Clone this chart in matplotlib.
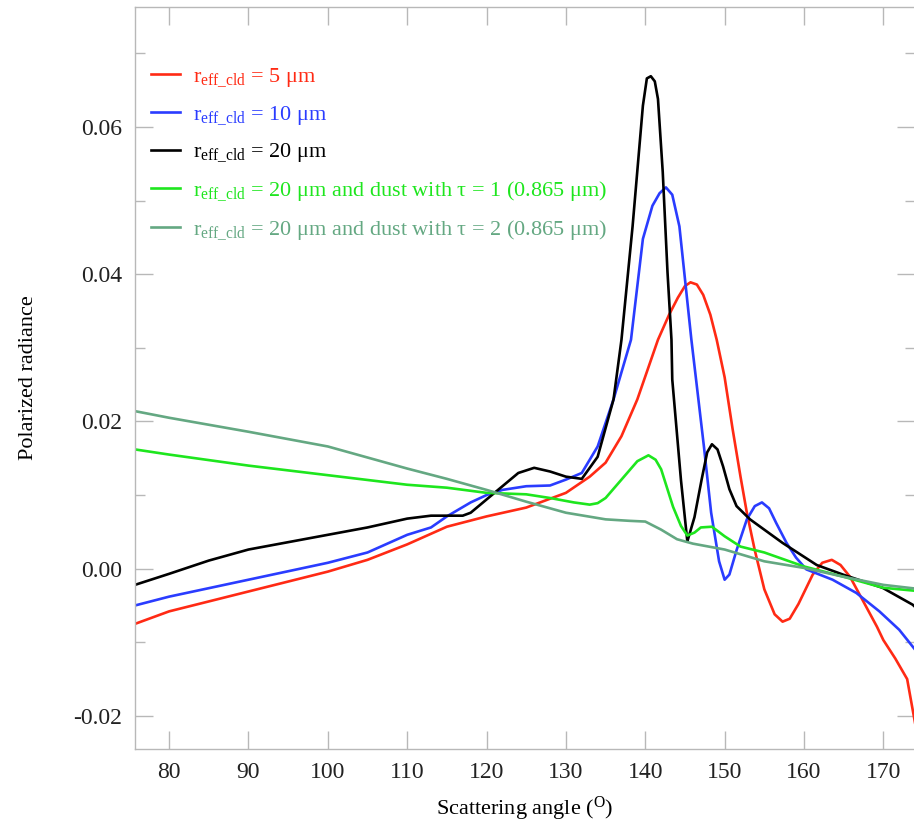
import matplotlib
matplotlib.use('Agg')
import matplotlib.pyplot as plt
from matplotlib.ticker import MultipleLocator

plt.rcParams['font.family'] = ['Liberation Serif', 'DejaVu Serif']
plt.rcParams['mathtext.fontset'] = 'custom'
plt.rcParams['mathtext.rm'] = 'Liberation Serif'
plt.rcParams['mathtext.it'] = 'Liberation Serif:italic'

# values
x_red = [75.7, 80, 90, 100, 105, 110, 115, 120, 125, 130, 133, 135, 137, 139, 141.6, 143, 144.1, 145.0,
         145.7, 146.5, 147.3, 148.2, 149, 150, 151, 152, 152.8, 153.8, 155, 156.3, 157.3, 158.2, 159.3,
         161.1, 162.3, 163.5, 164.6, 165.8, 167.5, 169.2, 170, 171.5, 173, 174]
y_red = [-0.0075, -0.0058, -0.0031, -0.0004, 0.0012, 0.0033, 0.0057, 0.0071, 0.0083, 0.0103, 0.0125,
         0.0144, 0.018, 0.023, 0.0311, 0.0345, 0.0368, 0.0384, 0.0389, 0.0386, 0.0372, 0.0345, 0.0311,
         0.026, 0.019, 0.0125, 0.0076, 0.0025, -0.0028, -0.0062, -0.0072, -0.0068, -0.0048, -0.0008,
         0.0008, 0.0012, 0.0005, -0.0011, -0.0045, -0.0079, -0.0097, -0.0122, -0.015, -0.021]

x_blue = [75.7, 80, 90, 100, 105, 110, 113, 115, 118, 120, 122, 125, 128, 130, 132, 134, 136, 138.2,
          139.7, 140.9, 141.8, 142.6, 143.4, 144.3, 145.8, 146.4, 147.4, 148.3, 149.3, 150.0, 150.6,
          151.5, 152.8, 153.8, 154.7, 155.6, 156.5, 157.8, 159, 160.3, 163.6, 166.6, 169.5, 172.0, 174]
y_blue = [-0.005, -0.0038, -0.0015, 0.0008, 0.0022, 0.0046, 0.0056, 0.0071, 0.009, 0.010, 0.0107,
          0.0112, 0.0113, 0.0121, 0.013, 0.0166, 0.023, 0.0311, 0.0448, 0.0493, 0.0510, 0.0518, 0.0508,
          0.0465, 0.0312, 0.0257, 0.0165, 0.0076, 0.001, -0.0015, -0.0008, 0.0025, 0.0067, 0.0085,
          0.009, 0.0082, 0.0062, 0.0035, 0.0015, -0.0001, -0.0015, -0.0033, -0.0058, -0.0083, -0.011]

x_black = [75.7, 80, 85, 90, 100, 105, 110, 113, 117, 118, 120, 122, 124, 126, 128, 130, 132, 134, 136,
           137.0, 138.4, 139.7, 140.2, 140.7, 141.2, 141.6, 142.2, 142.8, 143.3, 143.4, 144.5, 145.3,
           146.2, 147.1, 147.8, 148.4, 149.1, 149.8, 150.6, 151.5, 153.2, 157.3, 161.6, 164.9, 169.9,
           173.7, 174]
y_black = [-0.0022, -0.0007, 0.0011, 0.0026, 0.0046, 0.0056, 0.0068, 0.0072, 0.0072, 0.0076, 0.0094,
           0.0112, 0.013, 0.0137, 0.0132, 0.0125, 0.0122, 0.0152, 0.023, 0.0311, 0.0465, 0.0629, 0.0666,
           0.0669, 0.0662, 0.0638, 0.0539, 0.0403, 0.0311, 0.0257, 0.012, 0.0037, 0.007, 0.0121, 0.0158,
           0.0169, 0.0162, 0.0139, 0.0108, 0.0085, 0.0067, 0.0035, 0.0005, -0.0008, -0.0026, -0.0049,
           -0.0052]

x_green = [75.7, 80, 90, 100, 110, 115, 120, 125, 128, 131, 133, 134, 135, 137, 139, 140.4, 141.3, 142,
           143.5, 144.5, 145.3, 146.2, 147, 148.4, 150, 152, 155, 160, 165, 170, 174]
y_green = [0.0162, 0.0155, 0.014, 0.0127, 0.0114, 0.011, 0.0103, 0.0101, 0.0096, 0.009, 0.0087, 0.0089,
           0.0096, 0.0121, 0.0146, 0.0154, 0.0148, 0.0135, 0.0084, 0.0058, 0.0045, 0.0049, 0.0056, 0.0057,
           0.0044, 0.003, 0.0022, 0.0003, -0.0011, -0.0026, -0.003]

x_dgreen = [75.7, 80, 90, 100, 110, 115, 120, 125, 130, 135, 138, 140, 142, 144, 146, 150, 155, 160,
            165, 170, 174]
y_dgreen = [0.0214, 0.0205, 0.0186, 0.0166, 0.0136, 0.0122, 0.0107, 0.0091, 0.0076, 0.0067, 0.0065,
            0.0064, 0.0053, 0.004, 0.0034, 0.0026, 0.001, 0.0001, -0.0011, -0.0022, -0.0027]

labels = [r'r$_{\rm eff\_cld}$ = 5 μm',
          r'r$_{\rm eff\_cld}$ = 10 μm',
          r'r$_{\rm eff\_cld}$ = 20 μm',
          r'r$_{\rm eff\_cld}$ = 20 μm and dust with τ = 1 (0.865 μm)',
          r'r$_{\rm eff\_cld}$ = 20 μm and dust with τ = 2 (0.865 μm)']
colors = ['#ff2a14', '#2a3cff', '#000000', '#1ee61e', '#64a882']

fig = plt.figure(figsize=(9.14, 8.26), dpi=100)
ax = fig.add_axes([0.1477, 0.0932, 0.8535, 0.8983])

series = [(x_red, y_red), (x_blue, y_blue), (x_black, y_black), (x_green, y_green), (x_dgreen, y_dgreen)]
for (xs, ys), c, lab in zip(series, colors, labels):
    ax.plot(xs, ys, color=c, lw=1.9, label=lab, solid_joinstyle='round')

ax.set_xlim(75.7, 174)
ax.set_ylim(-0.0245, 0.0763)
ax.xaxis.set_major_locator(MultipleLocator(10))
ax.yaxis.set_major_locator(MultipleLocator(0.02))
ax.yaxis.set_minor_locator(MultipleLocator(0.01))
ax.yaxis.set_major_formatter(plt.FormatStrFormatter('%.2f'))

for s in ax.spines.values():
    s.set_color('#b8b8b8')
    s.set_linewidth(1.0)

ax.tick_params(which='both', direction='in', top=True, right=True, color='#b8b8b8', width=1.0,
               labelsize=17, labelcolor='#222222', pad=9)
ax.tick_params(which='major', length=13)
ax.tick_params(which='minor', length=7)

ax.set_xlabel(r'Scattering angle ($^{\rm O}$)', fontsize=16, labelpad=9)
ax.set_ylabel('Polarized radiance', fontsize=16, labelpad=26)

leg = ax.legend(loc='upper left', bbox_to_anchor=(-0.002, 0.944), frameon=False, fontsize=16,
                handlelength=1.3, handletextpad=0.6, labelspacing=0.66, labelcolor='linecolor',
                borderaxespad=0.4)

fig.savefig('out.png', dpi=100)
